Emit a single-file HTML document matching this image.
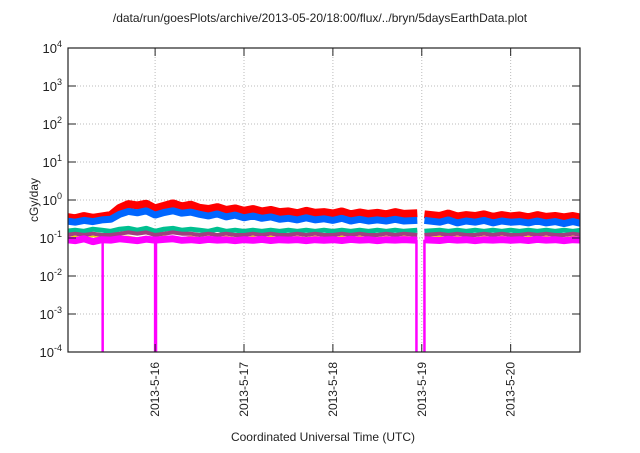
<!DOCTYPE html>
<html><head><meta charset="utf-8"><style>
body{margin:0;background:#fff;}
svg text{font-family:"Liberation Sans",sans-serif;fill:#222;}
</style></head><body>
<svg id="c" width="640" height="448" xmlns="http://www.w3.org/2000/svg">
<text x="320" y="22" font-size="12" text-anchor="middle">/data/run/goesPlots/archive/2013-05-20/18:00/flux/../bryn/5daysEarthData.plot</text>
<text transform="translate(38,200) rotate(-90)" font-size="12" text-anchor="middle">cGy/day</text>
<text x="323" y="441" font-size="12" text-anchor="middle">Coordinated Universal Time (UTC)</text>
<defs><clipPath id="clip"><rect x="68" y="48" width="512" height="304"/></clipPath></defs>
<g id="grid"></g><g id="series" clip-path="url(#clip)"></g><g id="axes"></g>
</svg>
<script>
const yExps=[-4,-3,-2,-1,0,1,2,3,4];
const xTickDays=[1,2,3,4,5];
const xTickLabels=["2013-5-16","2013-5-17","2013-5-18","2013-5-19","2013-5-20"];
const times=[0,0.1,0.2,0.3,0.4,0.5,0.6,0.7,0.8,0.9,1.0,1.1,1.2,1.3,1.4,1.5,1.6,1.7,1.8,1.9,2.0,2.1,2.2,2.3,2.4,2.5,2.6,2.7,2.8,2.9,3.0,3.1,3.2,3.3,3.4,3.5,3.6,3.7,3.8,3.95,4.0,4.03,4.2,4.3,4.4,4.5,4.6,4.7,4.8,4.9,5.0,5.1,5.2,5.3,5.4,5.5,5.6,5.7,5.8];
const red=[0.36,0.33,0.38,0.34,0.37,0.40,0.62,0.78,0.72,0.80,0.60,0.70,0.82,0.68,0.75,0.62,0.58,0.65,0.55,0.60,0.52,0.58,0.50,0.55,0.48,0.50,0.45,0.52,0.46,0.48,0.44,0.50,0.42,0.47,0.43,0.46,0.42,0.48,0.43,0.45,null,0.42,0.38,0.44,0.37,0.40,0.38,0.42,0.36,0.40,0.37,0.39,0.35,0.40,0.36,0.38,0.35,0.38,0.34];
const blue=[0.28,0.26,0.29,0.27,0.30,0.31,0.42,0.50,0.46,0.52,0.40,0.47,0.52,0.45,0.48,0.42,0.38,0.43,0.36,0.40,0.34,0.38,0.33,0.36,0.31,0.33,0.30,0.34,0.30,0.32,0.29,0.33,0.28,0.31,0.28,0.30,0.28,0.31,0.28,0.29,null,0.29,0.26,0.30,0.25,0.28,0.26,0.29,0.25,0.28,0.26,0.27,0.25,0.28,0.25,0.27,0.24,0.27,0.24];
const green=[0.15,0.16,0.15,0.17,0.16,0.15,0.17,0.18,0.16,0.18,0.15,0.17,0.18,0.16,0.17,0.16,0.15,0.17,0.15,0.16,0.15,0.16,0.15,0.16,0.15,0.16,0.15,0.16,0.15,0.16,0.15,0.16,0.15,0.16,0.15,0.16,0.15,0.16,0.15,0.16,null,0.15,0.16,0.15,0.16,0.15,0.16,0.15,0.16,0.15,0.16,0.15,0.16,0.15,0.16,0.15,0.16,0.15,0.16];
const brown=[0.12,0.13,0.12,0.13,0.12,0.12,0.13,0.14,0.13,0.14,0.12,0.13,0.14,0.13,0.13,0.12,0.13,0.12,0.13,0.12,0.12,0.13,0.12,0.13,0.12,0.12,0.13,0.12,0.13,0.12,0.12,0.13,0.12,0.13,0.12,0.12,0.13,0.12,0.13,0.12,null,0.12,0.13,0.12,0.13,0.12,0.12,0.13,0.12,0.13,0.12,0.12,0.13,0.12,0.13,0.12,0.12,0.13,0.12];
const yellow=[0.10,0.11,0.10,0.11,0.10,0.10,0.11,0.11,0.10,0.11,0.10,0.11,0.11,0.10,0.11,0.10,0.11,0.10,0.11,0.10,0.10,0.11,0.10,0.11,0.10,0.10,0.11,0.10,0.11,0.10,0.10,0.11,0.10,0.11,0.10,0.10,0.11,0.10,0.11,0.10,null,0.10,0.11,0.10,0.11,0.10,0.10,0.11,0.10,0.11,0.10,0.10,0.11,0.10,0.11,0.10,0.10,0.11,0.10];
const magenta=[0.09,0.085,0.095,0.08,0.09,0.088,0.095,0.09,0.085,0.093,0.088,0.092,0.095,0.087,0.09,0.086,0.092,0.088,0.09,0.085,0.09,0.087,0.092,0.086,0.09,0.088,0.091,0.085,0.09,0.087,0.09,0.086,0.092,0.088,0.09,0.085,0.09,0.088,0.091,0.087,null,0.09,0.086,0.092,0.088,0.09,0.085,0.09,0.088,0.091,0.087,0.09,0.086,0.092,0.088,0.09,0.085,0.09,0.088];
const dipTimes=[0.41,1.0,1.01,3.94,4.03];
const X0=68,X1=580,Y0=352,Y1=48,D0=0.02,D1=5.78;
const xs=d=>X0+(d-D0)/(D1-D0)*(X1-X0);
const ys=v=>Y0-(Math.log10(v)+4)/8*(Y0-Y1);
const NS="http://www.w3.org/2000/svg";
function mk(t,a,p){const e=document.createElementNS(NS,t);for(const k in a)e.setAttribute(k,a[k]);p.appendChild(e);return e;}
const grid=document.getElementById('grid'),axes=document.getElementById('axes'),ser=document.getElementById('series');
yExps.forEach(e=>{const y=ys(Math.pow(10,e));
 if(e>-4&&e<4){const g=mk('line',{x1:X0,x2:X1,y1:y,y2:y,stroke:'#bbb','stroke-dasharray':'1,2'},grid);}
 const t1=mk('line',{x1:X0,x2:X0+8,y1:y,y2:y,stroke:'#222'},axes);
 const t2=mk('line',{x1:X1-8,x2:X1,y1:y,y2:y,stroke:'#222'},axes);
 const tx=mk('text',{x:X0-6,y:y+5,'font-size':'13','text-anchor':'end'},axes);
 tx.textContent='10';const sp=mk('tspan',{dy:-6,'font-size':'9'},tx);sp.textContent=String(e);});
xTickDays.forEach((d,i)=>{const x=xs(d);
 const g=mk('line',{x1:x,x2:x,y1:Y1,y2:Y0,stroke:'#bbb','stroke-dasharray':'1,2'},grid);
 const t1=mk('line',{x1:x,x2:x,y1:Y0-8,y2:Y0,stroke:'#222'},axes);
 const t2=mk('line',{x1:x,x2:x,y1:Y1,y2:Y1+8,stroke:'#222'},axes);
 const tx=mk('text',{transform:`translate(${x+4},362) rotate(-90)`,'font-size':'12','text-anchor':'end'},axes);tx.textContent=xTickLabels[i];});
const fr=mk('rect',{x:X0,y:Y1,width:X1-X0,height:Y0-Y1,fill:'none',stroke:'#222','stroke-width':1.2},axes);
function drawSeries(vals,color,w,name){let d='',pen=false;
 vals.forEach((v,i)=>{if(v==null){pen=false;return;}d+=(pen?'L':'M')+xs(times[i]).toFixed(1)+','+ys(v).toFixed(1);pen=true;});
 const p=mk('path',{d:d,fill:'none',stroke:color,'stroke-width':w,'stroke-linejoin':'bevel'},ser);}
drawSeries(red,'#ff0000',8,'series-red');
drawSeries(blue,'#0066ff',7,'series-blue');
drawSeries(green,'#00c090',5,'series-green');
drawSeries(brown,'#a04080',4,'series-purple');
drawSeries(yellow,'#e8e000',1.5,'series-yellow');
drawSeries(magenta,'#ff00ff',7,'series-magenta');
dipTimes.forEach(t=>{const x=xs(t);const l=mk('line',{x1:x,x2:x,y1:ys(0.09),y2:Y0+2,stroke:'#ff00ff','stroke-width':2.5},ser);});
</script>
</body></html>
